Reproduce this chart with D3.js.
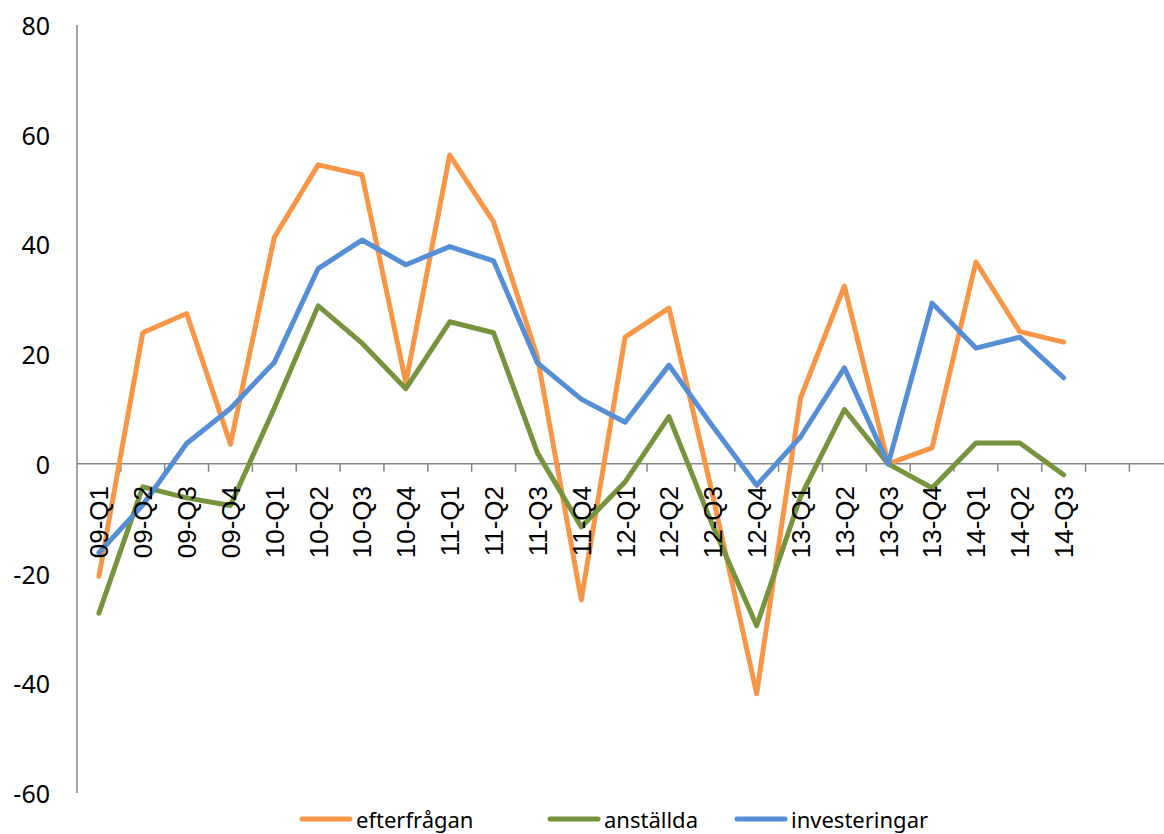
<html>
<head>
<meta charset="utf-8">
<title>efterfrågan, anställda, investeringar</title>
<script src="https://cdn.jsdelivr.net/npm/d3@7"></script>
<style>
    html, body { margin: 0; padding: 0; background: #fff; }
    .ylab { font-family: "Noto Sans", sans-serif; font-size: 25px; fill: #000; }
    .xlab { font-family: "Liberation Sans", Arial, sans-serif; font-size: 26px; fill: #000; }
    .leg { font-family: "Noto Sans", sans-serif; font-size: 22px; fill: #000; }
</style>
</head>
<body>
<svg width="1164" height="834" id="mainsvg"></svg>
<script>
    // data
    const categories = ["09-Q1","09-Q2","09-Q3","09-Q4","10-Q1","10-Q2","10-Q3","10-Q4",
        "11-Q1","11-Q2","11-Q3","11-Q4","12-Q1","12-Q2","12-Q3","12-Q4",
        "13-Q1","13-Q2","13-Q3","13-Q4","14-Q1","14-Q2","14-Q3"];
    const emptySlots = 2;   // axis keeps going after the last quarter
    const efterfragan = [-20.5, 23.9, 27.4, 3.6, 41.3, 54.5, 52.7, 14.8, 56.3, 44.1, 19.5, -24.8,
        23.1, 28.4, -5.8, -41.9, 12.0, 32.4, 0, 2.9, 36.8, 24.1, 22.2];
    const anstallda = [-27.2, -4.2, -6.2, -7.6, 10.2, 28.8, 22.0, 13.7, 25.9, 23.9, 2.0, -11.5,
        -3.3, 8.6, -11.3, -29.5, -6.0, 9.9, 0, -4.4, 3.8, 3.8, -2.0];
    const investeringar = [-16.2, -7.5, 3.7, 10.1, 18.5, 35.6, 40.8, 36.3, 39.6, 37.0, 18.4, 11.8,
        7.6, 18.0, 6.8, -3.9, 4.9, 17.5, 0, 29.3, 21.1, 23.1, 15.7];
    const yTicks = [80, 60, 40, 20, 0, -20, -40, -60];
    const seriesNames = ["efterfrågan", "anställda", "investeringar"];
    const colors = ["#F79646", "#77933C", "#558ED5"];

    const svg = d3.select('#mainsvg');
    const plotLeft = 77, plotTop = 25, plotBottom = 793, step = 43.85;

    const slots = d3.range(categories.length + emptySlots);
    const xScale = d3.scaleBand().domain(slots).range([plotLeft, plotLeft + slots.length * step]);
    const yScale = d3.scaleLinear().domain([-60, 80]).range([plotBottom, plotTop]);
    const xc = i => xScale(i) + xScale.bandwidth() / 2;

    // y axis: line and labels only
    svg.append('line').attr('x1', plotLeft).attr('x2', plotLeft)
        .attr('y1', yScale(80)).attr('y2', yScale(-60))
        .attr('stroke', '#868686').attr('stroke-width', 1.5);
    svg.append('g').selectAll('text').data(yTicks).join('text')
        .attr('class', 'ylab')
        .attr('x', 50).attr('y', d => yScale(d))
        .attr('text-anchor', 'end').attr('dominant-baseline', 'central')
        .text(d => d);

    // x axis at zero
    const y0 = yScale(0);
    svg.append('line').attr('x1', plotLeft).attr('x2', 1164)
        .attr('y1', y0).attr('y2', y0)
        .attr('stroke', '#868686').attr('stroke-width', 1.5);
    svg.append('g').selectAll('line').data(slots.slice(1)).join('line')
        .attr('x1', d => xScale(d)).attr('x2', d => xScale(d))
        .attr('y1', y0).attr('y2', y0 + 8)
        .attr('stroke', '#868686').attr('stroke-width', 1.5);

    // lines
    const seriesData = [efterfragan, anstallda, investeringar];
    const line = d3.line().x((d, i) => xc(i)).y(d => yScale(d));
    svg.append('g').selectAll('path').data(seriesData).join('path')
        .attr('d', line)
        .attr('fill', 'none')
        .attr('stroke', (d, i) => colors[i])
        .attr('stroke-width', 5)
        .attr('stroke-linejoin', 'round')
        .attr('stroke-linecap', 'round');

    // category labels, rotated
    svg.append('g').selectAll('text').data(categories).join('text')
        .attr('class', 'xlab')
        .attr('transform', (d, i) => `translate(${xc(i)}, 486) rotate(-90)`)
        .attr('text-anchor', 'end').attr('dy', '0.36em')
        .text(d => d);

    // legend
    const legX = [300, 548, 735];
    const legY = 819;
    const leg = svg.append('g').selectAll('g').data(seriesNames).join('g')
        .attr('transform', (d, i) => `translate(${legX[i]}, ${legY})`);
    leg.append('line').attr('x1', 2).attr('x2', 50).attr('y1', 0).attr('y2', 0)
        .attr('stroke', (d, i) => colors[i]).attr('stroke-width', 5)
        .attr('stroke-linecap', 'round');
    leg.append('text').attr('class', 'leg')
        .attr('x', 56).attr('y', 0).attr('dominant-baseline', 'central')
        .text(d => d);
</script>
</body>
</html>
